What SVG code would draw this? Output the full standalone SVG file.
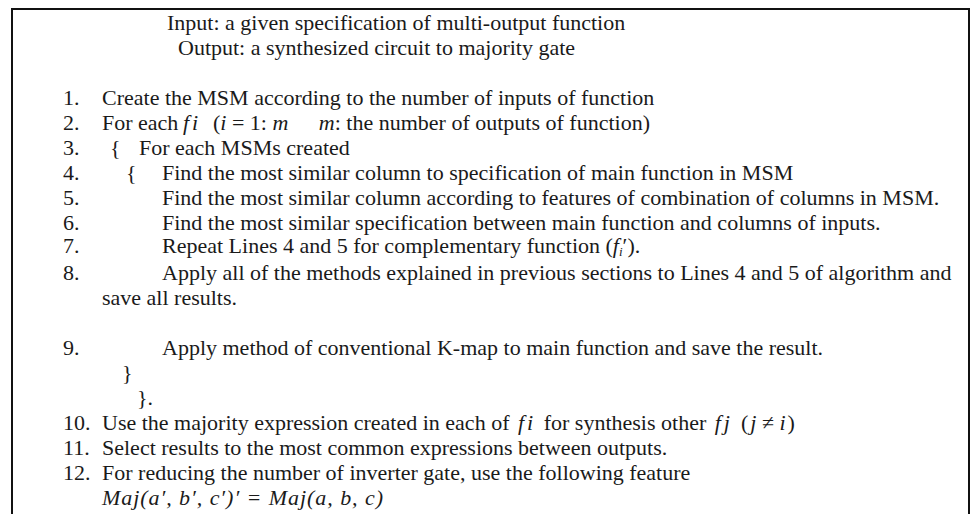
<svg xmlns="http://www.w3.org/2000/svg" width="972" height="514" viewBox="0 0 972 514">
<style>
text{font-family:"Liberation Serif","Times New Roman",serif;font-size:22px;fill:#1a1a1a}
.m{font-style:italic}
.b{fill:none;stroke:#111;stroke-width:2}
</style>
<rect x="0" y="0" width="972" height="514" fill="#fff"/>
<path class="b" d="M12,530 V9 H969 V530"/>
<g id="header">
<text x="167" y="30">Input: a given specification of multi-output function</text>
<text x="178" y="55">Output: a synthesized circuit to majority gate</text>
</g>
<g id="steps">
<text x="63" y="105">1.</text><text x="102" y="105">Create the MSM according to the number of inputs of function</text>
<text x="63" y="130">2.</text><text x="102" y="130">For each</text><text x="183" y="130" class="m" letter-spacing="3">fi</text><text x="213" y="130">(<tspan class="m">i</tspan> = 1: <tspan class="m">m</tspan></text><text x="650" y="130" text-anchor="end"><tspan class="m">m</tspan>: the number of outputs of function)</text>
<text x="63" y="155">3.</text><text x="110" y="155">{</text><text x="139" y="155">For each MSMs created</text>
<text x="63" y="180">4.</text><text x="126" y="180">{</text><text x="162" y="180">Find the most similar column to specification of main function in MSM</text>
<text x="63" y="205">5.</text><text x="162" y="205">Find the most similar column according to features of combination of columns in MSM.</text>
<text x="63" y="230">6.</text><text x="162" y="230">Find the most similar specification between main function and columns of inputs.</text>
<text x="63" y="253">7.</text><text x="162" y="253">Repeat Lines 4 and 5 for complementary function (<tspan class="m">f</tspan><tspan class="m" font-size="13" dy="3">i</tspan><tspan dy="-3">′).</tspan></text>
<text x="63" y="280">8.</text><text x="162" y="280">Apply all of the methods explained in previous sections to Lines 4 and 5 of algorithm and</text>
<text x="102" y="305">save all results.</text>
<text x="63" y="355">9.</text><text x="162" y="355">Apply method of conventional K-map to main function and save the result.</text>
<text x="122" y="380">}</text>
<text x="137" y="405">}.</text>
<text x="63" y="430">10.</text><text x="102" y="430">Use the majority expression created in each of <tspan class="m" dx="3" letter-spacing="3">fi</tspan><tspan dx="2"> for synthesis other </tspan><tspan class="m" dx="3" letter-spacing="3">fj</tspan><tspan dx="8">(</tspan><tspan class="m" dx="2">j</tspan> ≠ <tspan class="m">i</tspan><tspan dx="2">)</tspan></text>
<text x="63" y="455">11.</text><text x="102" y="455">Select results to the most common expressions between outputs.</text>
<text x="63" y="480">12.</text><text x="102" y="480">For reducing the number of inverter gate, use the following feature</text>
<text x="102" y="505" class="m" textLength="281" lengthAdjust="spacing">Maj(a′, b′, c′)′ = Maj(a, b, c)</text>
</g>
</svg>
